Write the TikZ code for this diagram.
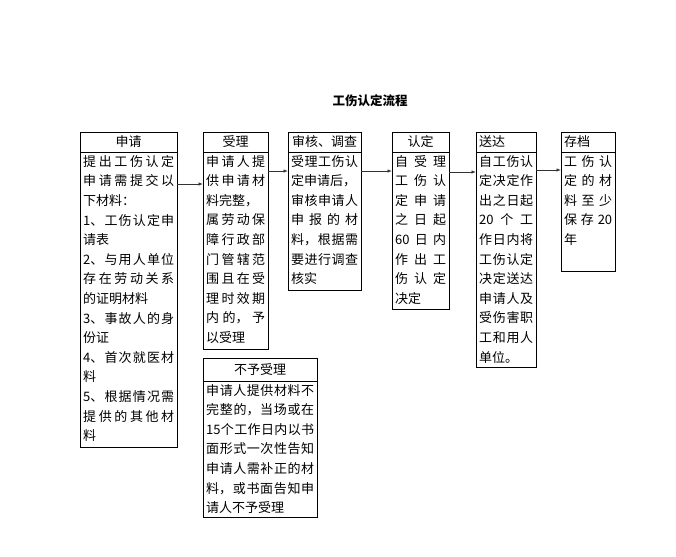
\documentclass[tikz,border=0pt]{standalone}
\usepackage{fontspec}
\newfontfamily\cjk{Noto Sans CJK SC}
\usetikzlibrary{calc,arrows.meta}
\newcommand{\SP}[1]{\makebox[\hsize][s]{\spaceskip=0pt plus 1fil\xspaceskip=0pt plus 1fil #1}}
\tikzset{
  boxline/.style={draw=black,line width=0.9pt,inner sep=0pt,outer sep=0pt,anchor=north west},
  hdrtext/.style={inner sep=0pt,font=\cjk\fontsize{13}{15}\selectfont},
  bodytext/.style={inner sep=0pt,anchor=north west,align=left,
    font=\cjk\fontsize{13}{19.6}\selectfont},
  arr/.style={draw=black!80,line width=0.8pt,-{Latex[length=4.5pt,width=3.5pt]}},
}
\begin{document}
\begin{tikzpicture}[x=1pt,y=-1pt]
\useasboundingbox[fill=white] (0,0) rectangle (676,556);
% title
\node[hdrtext,font=\cjk\bfseries\fontsize{12.5}{15}\selectfont] (title) at (370,101) {工伤认定流程};
% box 1
\node[boxline,minimum width=97pt,minimum height=20pt] (h1) at (80,132) {};
\node[boxline,minimum width=97pt,minimum height=295pt] (b1) at (80,152) {};
\node[hdrtext] (t1) at (h1.center) {申请};
\node[bodytext,text width=91pt] (x1) at (83,155) {%
\SP{提 出 工 伤 认 定}\\
\SP{申 请 需 提 交 以}\\
下材料：\\
\SP{1、 工 伤 认 定 申}\\
请表\\
\SP{2、 与 用 人 单 位}\\
\SP{存 在 劳 动 关 系}\\
的证明材料\\
\SP{3、 事 故 人 的 身}\\
份证\\
\SP{4、 首 次 就 医 材}\\
料\\
\SP{5、 根 据 情 况 需}\\
\SP{提 供 的 其 他 材}\\
料};
% box 2
\node[boxline,minimum width=65pt,minimum height=20pt] (h2) at (203,132) {};
\node[boxline,minimum width=65pt,minimum height=197pt] (b2) at (203,152) {};
\node[hdrtext] (t2) at (h2.center) {受理};
\node[bodytext,text width=59pt] (x2) at (206,155) {%
\SP{申 请 人 提}\\
\SP{供 申 请 材}\\
料完整，\\
\SP{属 劳 动 保}\\
\SP{障 行 政 部}\\
\SP{门 管 辖 范}\\
\SP{围 且 在 受}\\
\SP{理 时 效 期}\\
\SP{内 的， 予}\\
以受理};
% box 3
\node[boxline,minimum width=73pt,minimum height=20pt] (h3) at (288,132) {};
\node[boxline,minimum width=73pt,minimum height=138pt] (b3) at (288,152) {};
\node[hdrtext] (t3) at (h3.center) {审核、调查};
\node[bodytext,text width=67pt] (x3) at (291,155) {%
\SP{受 理 工 伤 认}\\
定申请后，\\
\SP{审 核 申 请 人}\\
\SP{申 报 的 材}\\
\SP{料， 根 据 需}\\
\SP{要 进 行 调 查}\\
核实};
% box 4
\node[boxline,minimum width=57pt,minimum height=20pt] (h4) at (392,132) {};
\node[boxline,minimum width=57pt,minimum height=157pt] (b4) at (392,152) {};
\node[hdrtext] (t4) at (h4.center) {认定};
\node[bodytext,text width=51pt] (x4) at (395,155) {%
\SP{自 受 理}\\
\SP{工 伤 认}\\
\SP{定 申 请}\\
\SP{之 日 起}\\
\SP{60 日 内}\\
\SP{作 出 工}\\
\SP{伤 认 定}\\
决定};
% box 5
\node[boxline,minimum width=60pt,minimum height=20pt] (h5) at (476,132) {};
\node[boxline,minimum width=60pt,minimum height=215pt] (b5) at (476,152) {};
\node[hdrtext,anchor=west] (t5) at ($(h5.west)+(3,0)$) {送达};
\node[bodytext,text width=54pt] (x5) at (479,155) {%
\SP{自 工 伤 认}\\
\SP{定 决 定 作}\\
\SP{出 之 日 起}\\
\SP{20 个 工}\\
\SP{作 日 内 将}\\
\SP{工 伤 认 定}\\
\SP{决 定 送 达}\\
\SP{申 请 人 及}\\
\SP{受 伤 害 职}\\
\SP{工 和 用 人}\\
单位。};
% box 6
\node[boxline,minimum width=54pt,minimum height=20pt] (h6) at (561,132) {};
\node[boxline,minimum width=54pt,minimum height=119pt] (b6) at (561,152) {};
\node[hdrtext,anchor=west] (t6) at ($(h6.west)+(3,0)$) {存档};
\node[bodytext,text width=48pt] (x6) at (564,155) {%
\SP{工 伤 认}\\
\SP{定 的 材}\\
\SP{料 至 少}\\
\SP{保 存 20}\\
年};
% box 7
\node[boxline,minimum width=114pt,minimum height=23pt] (h7) at (203,358) {};
\node[boxline,minimum width=114pt,minimum height=136pt] (b7) at (203,381) {};
\node[hdrtext] (t7) at (h7.center) {不予受理};
\node[bodytext,text width=108pt] (x7) at (206,384) {%
\SP{申 请 人 提 供 材 料 不}\\
\SP{完 整 的， 当 场 或 在}\\
\SP{15 个 工 作 日 内 以 书}\\
\SP{面 形 式 一 次 性 告 知}\\
\SP{申 请 人 需 补 正 的 材}\\
\SP{料， 或 书 面 告 知 申}\\
请人不予受理};
% arrows
\draw[arr] ($(b1.north east)+(0,32)$) -- ($(b2.north west)+(0,32)$);
\draw[arr] ($(b2.north east)+(0,19)$) -- ($(b3.north west)+(0,19)$);
\draw[arr] ($(b3.north east)+(0,19)$) -- ($(b4.north west)+(0,19)$);
\draw[arr] ($(b4.north east)+(0,20)$) -- ($(b5.north west)+(0,20)$);
\draw[arr] ($(b5.north east)+(0,18)$) -- ($(b6.north west)+(0,18)$);
\end{tikzpicture}
\end{document}
